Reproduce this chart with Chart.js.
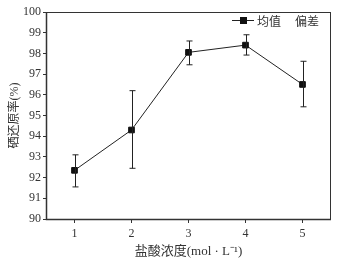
<!DOCTYPE html>
<html>
<head>
<meta charset="utf-8">
<script src="https://cdn.jsdelivr.net/npm/chart.js@4"></script>
<style>
  html, body { margin: 0; padding: 0; background: #fff; }
  #wrap { width: 341px; height: 262px; }
</style>
</head>
<body>
<div id="wrap"><canvas id="chart" width="341" height="262"></canvas></div>
<script>
const concentrations = ['1', '2', '3', '4', '5'];
const meanValues = [92.35, 94.3, 98.05, 98.4, 96.5];
const errLow = [91.55, 92.45, 97.45, 97.92, 95.42];
const errHigh = [93.1, 96.2, 98.6, 98.9, 97.62];
const yTicks = [90, 91, 92, 93, 94, 95, 96, 97, 98, 99, 100];

const serif = "'Liberation Serif', 'Times New Roman', serif";
const mixed = "'Liberation Serif', 'Noto Sans CJK SC', serif";
const cjk = "'Noto Sans CJK SC', sans-serif";

// error bars drawn through the y scale
const errorBars = {
  id: 'errorBars',
  afterDatasetsDraw: (chart) => {
    const ctx = chart.ctx;
    const y = chart.scales.y;
    const meta = chart.getDatasetMeta(0);
    ctx.save();
    ctx.strokeStyle = '#222';
    ctx.lineWidth = 1;
    meta.data.forEach((pt, i) => {
      const x = Math.round(pt.x) + 0.5;
      const top = y.getPixelForValue(errHigh[i]);
      const bot = y.getPixelForValue(errLow[i]);
      ctx.beginPath();
      ctx.moveTo(x, top);
      ctx.lineTo(x, bot);
      ctx.moveTo(x - 3, top);
      ctx.lineTo(x + 3, top);
      ctx.moveTo(x - 3, bot);
      ctx.lineTo(x + 3, bot);
      ctx.stroke();
    });
    ctx.restore();
  }
};

// box round the plot area and the legend in the top right
const frameAndLegend = {
  id: 'frameAndLegend',
  afterDraw: (chart) => {
    const {ctx, chartArea} = chart;
    ctx.save();
    ctx.strokeStyle = '#333';
    ctx.lineWidth = 1;
    ctx.strokeRect(chartArea.left + 0.5, chartArea.top + 0.5,
      chartArea.right - chartArea.left - 1, chartArea.bottom - chartArea.top);
    // heavier left and bottom axis lines
    ctx.lineWidth = 1.5;
    ctx.beginPath();
    ctx.moveTo(chartArea.left + 0.5, chartArea.top);
    ctx.lineTo(chartArea.left + 0.5, chartArea.bottom + 0.5);
    ctx.lineTo(chartArea.right, chartArea.bottom + 0.5);
    ctx.stroke();

    const lx = 232, ly = 20;
    ctx.lineWidth = 1;
    ctx.strokeStyle = '#222';
    ctx.beginPath();
    ctx.moveTo(lx, ly + 0.5);
    ctx.lineTo(lx + 22, ly + 0.5);
    ctx.stroke();
    ctx.fillStyle = '#111';
    ctx.fillRect(lx + 8, ly - 3, 7, 7);
    ctx.fillStyle = '#333';
    ctx.font = `12px ${cjk}`;
    ctx.textBaseline = 'middle';
    ctx.fillText('均值', lx + 25, ly + 1);
    ctx.fillText('偏差', lx + 63, ly + 1);
    ctx.restore();
  }
};

new Chart(document.getElementById('chart'), {
  type: 'line',
  data: {
    labels: concentrations,
    datasets: [{
      label: '均值',
      data: meanValues,
      borderColor: '#222',
      borderWidth: 1,
      pointStyle: 'rect',
      pointRadius: 4,
      pointBackgroundColor: '#111',
      pointBorderColor: '#111',
      tension: 0
    }]
  },
  options: {
    responsive: false,
    animation: false,
    layout: { padding: { top: 12, right: 10, left: 0, bottom: 3 } },
    plugins: {
      legend: { display: false },
      tooltip: { enabled: false }
    },
    scales: {
      x: {
        type: 'category',
        offset: true,
        grid: { display: true, drawOnChartArea: false, offset: false, tickLength: 4, color: '#333' },
        border: { display: false },
        ticks: { color: '#333', font: { family: serif, size: 12 }, padding: 4 },
        title: { display: true, text: '盐酸浓度(mol · L⁻¹)', color: '#333', font: { family: mixed, size: 13 }, padding: { top: 2, bottom: 0 } },
        afterFit: (scale) => { scale.height = 40; }
      },
      y: {
        min: 90,
        max: 100,
        afterBuildTicks: (scale) => { scale.ticks = yTicks.map(v => ({ value: v })); },
        grid: { display: true, drawOnChartArea: false, tickLength: 3, color: '#333' },
        border: { display: false },
        ticks: { color: '#333', font: { family: serif, size: 12 }, padding: 2 },
        title: { display: true, text: '硒还原率(%)', color: '#333', font: { family: mixed, size: 12 }, padding: { top: 8, bottom: 0 } },
        afterFit: (scale) => { scale.width = 46; }
      }
    }
  },
  plugins: [errorBars, frameAndLegend]
});
</script>
</body>
</html>
